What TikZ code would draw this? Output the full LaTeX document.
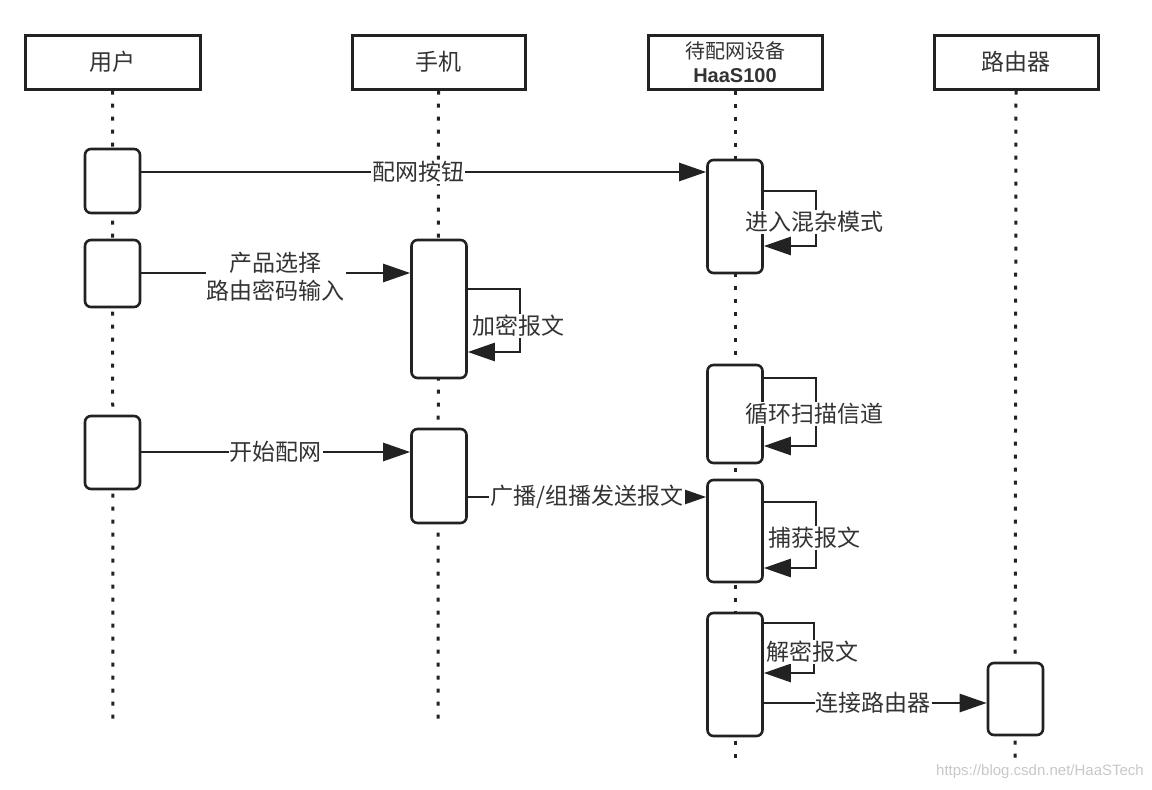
\documentclass[tikz,border=0pt]{standalone}
\usepackage{fontspec}
\setmainfont{Noto Sans CJK SC}
\newfontfamily\latinbold{Liberation Sans}
\usetikzlibrary{arrows.meta}
\definecolor{ink}{HTML}{222222}
\definecolor{txt}{HTML}{333333}
\definecolor{wm}{HTML}{C8C8C8}
\begin{document}
\begin{tikzpicture}[x=1pt,y=-1pt,
  head/.style={draw=ink, line width=3pt, fill=white, minimum height=54pt, inner sep=0pt,
    text=txt, font=\fontsize{23}{25}\selectfont, align=center},
  act/.style={draw=ink, line width=2.6pt, fill=white, rounded corners=6pt, inner sep=0pt, minimum width=55pt},
  life/.style={draw=ink, line width=3pt, dash pattern=on 4pt off 9pt},
  msg/.style={draw=ink, line width=2.6pt, -{Triangle[length=27pt,width=18pt]}},
  lbl/.style={fill=white, text=txt, inner sep=1pt, font=\fontsize{23}{26}\selectfont, align=center}
]
\useasboundingbox (0,0) rectangle (1152,790);

% header boxes
\node[head, minimum width=175pt] (user) at (112.5,62) {用户};
\node[head, minimum width=173pt] (phone) at (438.5,62) {手机};
\node[head, minimum width=174pt, font=\fontsize{20}{24}\selectfont] (dev) at (735,62) {待配网设备\\{\latinbold\bfseries HaaS100}};
\node[head, minimum width=164pt] (router) at (1016,62) {路由器};

% lifeline ends
\coordinate (userEnd) at (113,722);
\coordinate (phoneEnd) at (438,722);
\coordinate (devEnd) at (735,760);
\coordinate (routerEnd) at (1015,760);

\draw[life] (user.south) -- (userEnd);
\draw[life] (phone.south) -- (phoneEnd);
\draw[life] (dev.south) -- (devEnd);
\draw[life] (router.south) -- (routerEnd);

% activation boxes
\node[act, minimum height=64pt] (A1) at (112.5,181) {};
\node[act, minimum height=67pt] (A2) at (112.5,273.5) {};
\node[act, minimum height=73pt] (A3) at (112.5,452.5) {};
\node[act, minimum height=138pt] (B1) at (439,309) {};
\node[act, minimum height=94pt] (B2) at (439,476) {};
\node[act, minimum height=113pt] (C1) at (735,216.5) {};
\node[act, minimum height=98pt] (C2) at (735,414) {};
\node[act, minimum height=102pt] (C3) at (735,531) {};
\node[act, minimum height=123pt] (C4) at (735,674.5) {};
\node[act, minimum height=72pt] (D1) at (1015.5,699) {};

% messages
\draw[msg] (A1.east |- 0,172) -- (C1.west |- 0,172)
  node[lbl, pos=0.49] (m1) {配网按钮};
\draw[msg] (A2.east |- 0,273) -- (B1.west |- 0,273)
  node[lbl, pos=0.5, yshift=-4pt] (m2) {产品选择\\[2pt]路由密码输入};
\draw[msg] (A3.east |- 0,452) -- (B2.west |- 0,452)
  node[lbl, pos=0.5] (m3) {开始配网};
\draw[msg] (B2.east |- 0,497) -- (C3.west |- 0,497)
  node[lbl, pos=0.5] (m4) {广播/组播发送报文};
\draw[msg] (C4.east |- 0,703) -- (D1.west |- 0,703)
  node[lbl, pos=0.49] (m5) {连接路由器};

% self loops
\coordinate (l1a) at (520,289); \coordinate (l1b) at (520,352);
\draw[msg] (B1.east |- l1a) -- (l1a) -- (l1b) -- (B1.east |- l1b);
\node[lbl] (s1) at (518,326) {加密报文};

\coordinate (l2a) at (816,191); \coordinate (l2b) at (816,246);
\draw[msg] (C1.east |- l2a) -- (l2a) -- (l2b) -- (C1.east |- l2b);
\node[lbl] (s2) at (814,222) {进入混杂模式};

\coordinate (l3a) at (816,378); \coordinate (l3b) at (816,446);
\draw[msg] (C2.east |- l3a) -- (l3a) -- (l3b) -- (C2.east |- l3b);
\node[lbl] (s3) at (814,414) {循环扫描信道};

\coordinate (l4a) at (816,502); \coordinate (l4b) at (816,568);
\draw[msg] (C3.east |- l4a) -- (l4a) -- (l4b) -- (C3.east |- l4b);
\node[lbl] (s4) at (814,538) {捕获报文};

\coordinate (l5a) at (814,623); \coordinate (l5b) at (814,673);
\draw[msg] (C4.east |- l5a) -- (l5a) -- (l5b) -- (C4.east |- l5b);
\node[lbl] (s5) at (812,652) {解密报文};

% watermark
\node[text=wm, font=\fontsize{15}{17}\selectfont\latinbold, anchor=east, inner sep=0pt] (wmk) at (1144,772) {https://blog.csdn.net/HaaSTech};
\end{tikzpicture}
\end{document}
